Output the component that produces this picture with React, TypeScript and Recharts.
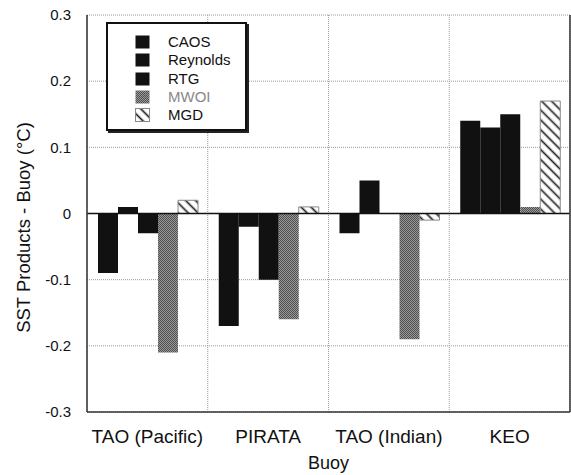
import React from 'react';
import {
  BarChart,
  Bar,
  XAxis,
  YAxis,
  CartesianGrid,
  ReferenceLine
} from 'recharts';

const buoys = ['TAO (Pacific)', 'PIRATA', 'TAO (Indian)', 'KEO'];
const caos = [-0.09, -0.17, -0.03, 0.14];
const reynolds = [0.01, -0.02, 0.05, 0.13];
const rtg = [-0.03, -0.1, 0, 0.15];
const mwoi = [-0.21, -0.16, -0.19, 0.01];
const mgd = [0.02, 0.01, -0.01, 0.17];
const yTicks = [-0.3, -0.2, -0.1, 0, 0.1, 0.2, 0.3];

type Series = { key: string; name: string; fill: string; stroke?: string; text: string };

const series: Series[] = [
  { key: 'caos', name: 'CAOS', fill: '#111', text: '#111' },
  { key: 'reynolds', name: 'Reynolds', fill: '#111', text: '#111' },
  { key: 'rtg', name: 'RTG', fill: '#111', text: '#111' },
  { key: 'mwoi', name: 'MWOI', fill: 'url(#checker)', text: '#888' },
  { key: 'mgd', name: 'MGD', fill: 'url(#hatch)', stroke: '#888', text: '#111' }
];

const data = buoys.map((b, i) => ({
  buoy: b,
  caos: caos[i],
  reynolds: reynolds[i],
  rtg: rtg[i],
  mwoi: mwoi[i],
  mgd: mgd[i]
}));

const font = '"Liberation Sans", Arial, sans-serif';

// vertical grid lines sit on the category boundaries, not the centres
const boundaryLines = ({ offset }: any) => {
  const n = buoys.length;
  return Array.from({ length: n + 1 }, (_, i) => offset.left + (i * offset.width) / n);
};

const LegendBox = () => (
  <div
    style={{
      position: 'absolute',
      left: 106,
      top: 22,
      width: 110,
      border: '2px solid #111',
      boxShadow: '2px 2px 0 #222',
      background: '#fff',
      padding: '9px 0 5px 27px',
      fontFamily: font,
      fontSize: 15,
      lineHeight: '18px'
    }}
  >
    {series.map((s) => (
      <div key={s.key} style={{ display: 'flex', alignItems: 'center', height: 18.3 }}>
        <svg width={15} height={14} style={{ marginRight: 18, flexShrink: 0 }}>
          <rect x={0.5} y={0.5} width={14} height={13} fill={s.fill} stroke={s.stroke || 'none'} />
        </svg>
        <span style={{ color: s.text, whiteSpace: 'nowrap' }}>{s.name}</span>
      </div>
    ))}
  </div>
);

export default function App() {
  return (
    <div style={{ position: 'absolute', left: 0, top: 0, width: 571, height: 475, background: '#fff' }}>
      <BarChart
        width={571}
        height={475}
        data={data}
        margin={{ top: 15, right: 0, bottom: 0, left: 0 }}
        barCategoryGap={11}
        barGap={0}
      >
        <defs>
          <pattern id="checker" width={2} height={2} patternUnits="userSpaceOnUse">
            <rect width={2} height={2} fill="#999" />
            <rect width={1} height={1} fill="#505050" />
            <rect x={1} y={1} width={1} height={1} fill="#505050" />
          </pattern>
          <pattern
            id="hatch"
            width={7}
            height={7}
            patternUnits="userSpaceOnUse"
            patternTransform="rotate(45)"
          >
            <rect width={7} height={7} fill="#fff" />
            <line x1={0} y1={3.5} x2={7} y2={3.5} stroke="#222" strokeWidth={1.7} />
          </pattern>
        </defs>
        <CartesianGrid
          stroke="#9a9a9a"
          strokeDasharray="1 1"
          verticalCoordinatesGenerator={boundaryLines}
        />
        <XAxis
          dataKey="buoy"
          height={63}
          axisLine={{ stroke: '#333', strokeWidth: 1.5 }}
          tickLine={false}
          tick={{ fill: '#111', fontSize: 19, fontFamily: font }}
          tickMargin={12}
          label={{
            value: 'Buoy',
            position: 'insideBottom',
            offset: 6,
            fill: '#111',
            fontSize: 18,
            fontFamily: font
          }}
        />
        <YAxis
          domain={[-0.3, 0.3]}
          ticks={yTicks}
          allowDataOverflow
          width={87}
          axisLine={{ stroke: '#333', strokeWidth: 1.5 }}
          tickLine={false}
          tickMargin={10}
          tickFormatter={(v: number) => (v === 0 ? '0' : v.toFixed(1))}
          tick={{ fill: '#111', fontSize: 15, fontFamily: font }}
          label={{
            value: 'SST Products - Buoy (°C)',
            angle: -90,
            position: 'center',
            dx: -20,
            dy: 14,
            fill: '#111',
            fontSize: 18.5,
            fontFamily: font
          }}
        />
        <YAxis
          yAxisId="right"
          orientation="right"
          domain={[-0.3, 0.3]}
          ticks={yTicks}
          width={1}
          tick={false}
          tickLine={false}
          axisLine={{ stroke: '#333', strokeWidth: 1.5 }}
        />
        <ReferenceLine y={0} stroke="#111" strokeWidth={1.5} />
        {series.map((s) => (
          <Bar
            key={s.key}
            dataKey={s.key}
            name={s.name}
            fill={s.fill}
            stroke={s.stroke}
            strokeWidth={s.stroke ? 1 : 0}
            isAnimationActive={false}
          />
        ))}
      </BarChart>
      <LegendBox />
    </div>
  );
}
